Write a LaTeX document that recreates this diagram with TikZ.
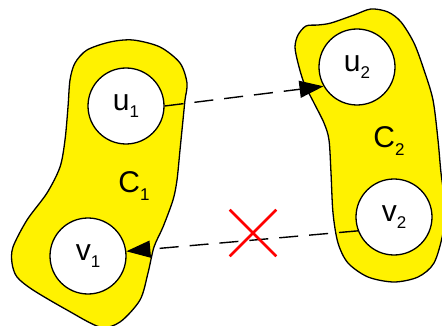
\documentclass[tikz,border=0pt]{standalone}
\usepackage{fontspec}
\setmainfont{Liberation Sans}
\usetikzlibrary{arrows.meta,shapes.misc}
\tikzset{
  blob/.style={draw=black, fill=yellow, line width=1.3pt},
  vert/.style={circle, draw=black, fill=white, line width=1.3pt, minimum size=76pt, inner sep=0pt, font=\fontsize{30}{32}\selectfont},
  lbl/.style={font=\fontsize{30}{32}\selectfont},
  link/.style={line width=1.4pt, dash pattern=on 19pt off 11pt, -{Triangle[length=24pt,width=17pt]}},
  cut/.style={cross out, draw=red, line width=2.6pt, minimum size=44pt, inner sep=0pt}
}
\newcommand{\sbx}[1]{\raisebox{-0.24em}{\fontsize{17}{19}\selectfont #1}}
\begin{document}
\begin{tikzpicture}[x=1pt,y=-1pt]
\useasboundingbox (0,0) rectangle (442,326);
\draw[blob] plot[smooth cycle, tension=0.5] coordinates {
 (87,50) (110,42) (133,40) (160,47) (180,63) (187,83) (185,100) (183,120)
 (180,150) (177,180) (173,200) (163,227) (154,247) (148,273) (140,300)
 (120,322) (100,327) (67,310) (33,290) (17,277) (12,263) (13,247) (27,220)
 (47,193) (60,167) (65,140) (68,107) (70,80) (75,63)};
\draw[blob] plot[smooth cycle, tension=0.5] coordinates {
 (298,35) (306,26) (318,25) (331,23) (354,15) (371,9) (388,12) (401,22)
 (414,43) (424,70) (433,100) (438,140) (441,173) (445,205) (443,233)
 (434,263) (418,277) (394,282) (368,277) (348,263) (338,243) (333,213)
 (331,173) (329,140) (324,123) (314,103) (304,83) (298,63) (295,47)};
\node[vert] (u1) at (126,106) {u\sbx{1}};
\node[vert] (v1) at (88,256) {v\sbx{1}};
\node[vert] (u2) at (357,67) {u\sbx{2}};
\node[vert] (v2) at (394,217) {v\sbx{2}};
\node[lbl] (c1) at (134,186) {C\sbx{1}};
\node[lbl] (c2) at (389,141) {C\sbx{2}};
\draw[link] (u1.east) -- (u2.210);
\draw[link] (v2.201) -- (v1.7);
\node[cut] (x) at (253,233) {};
\end{tikzpicture}
\end{document}
